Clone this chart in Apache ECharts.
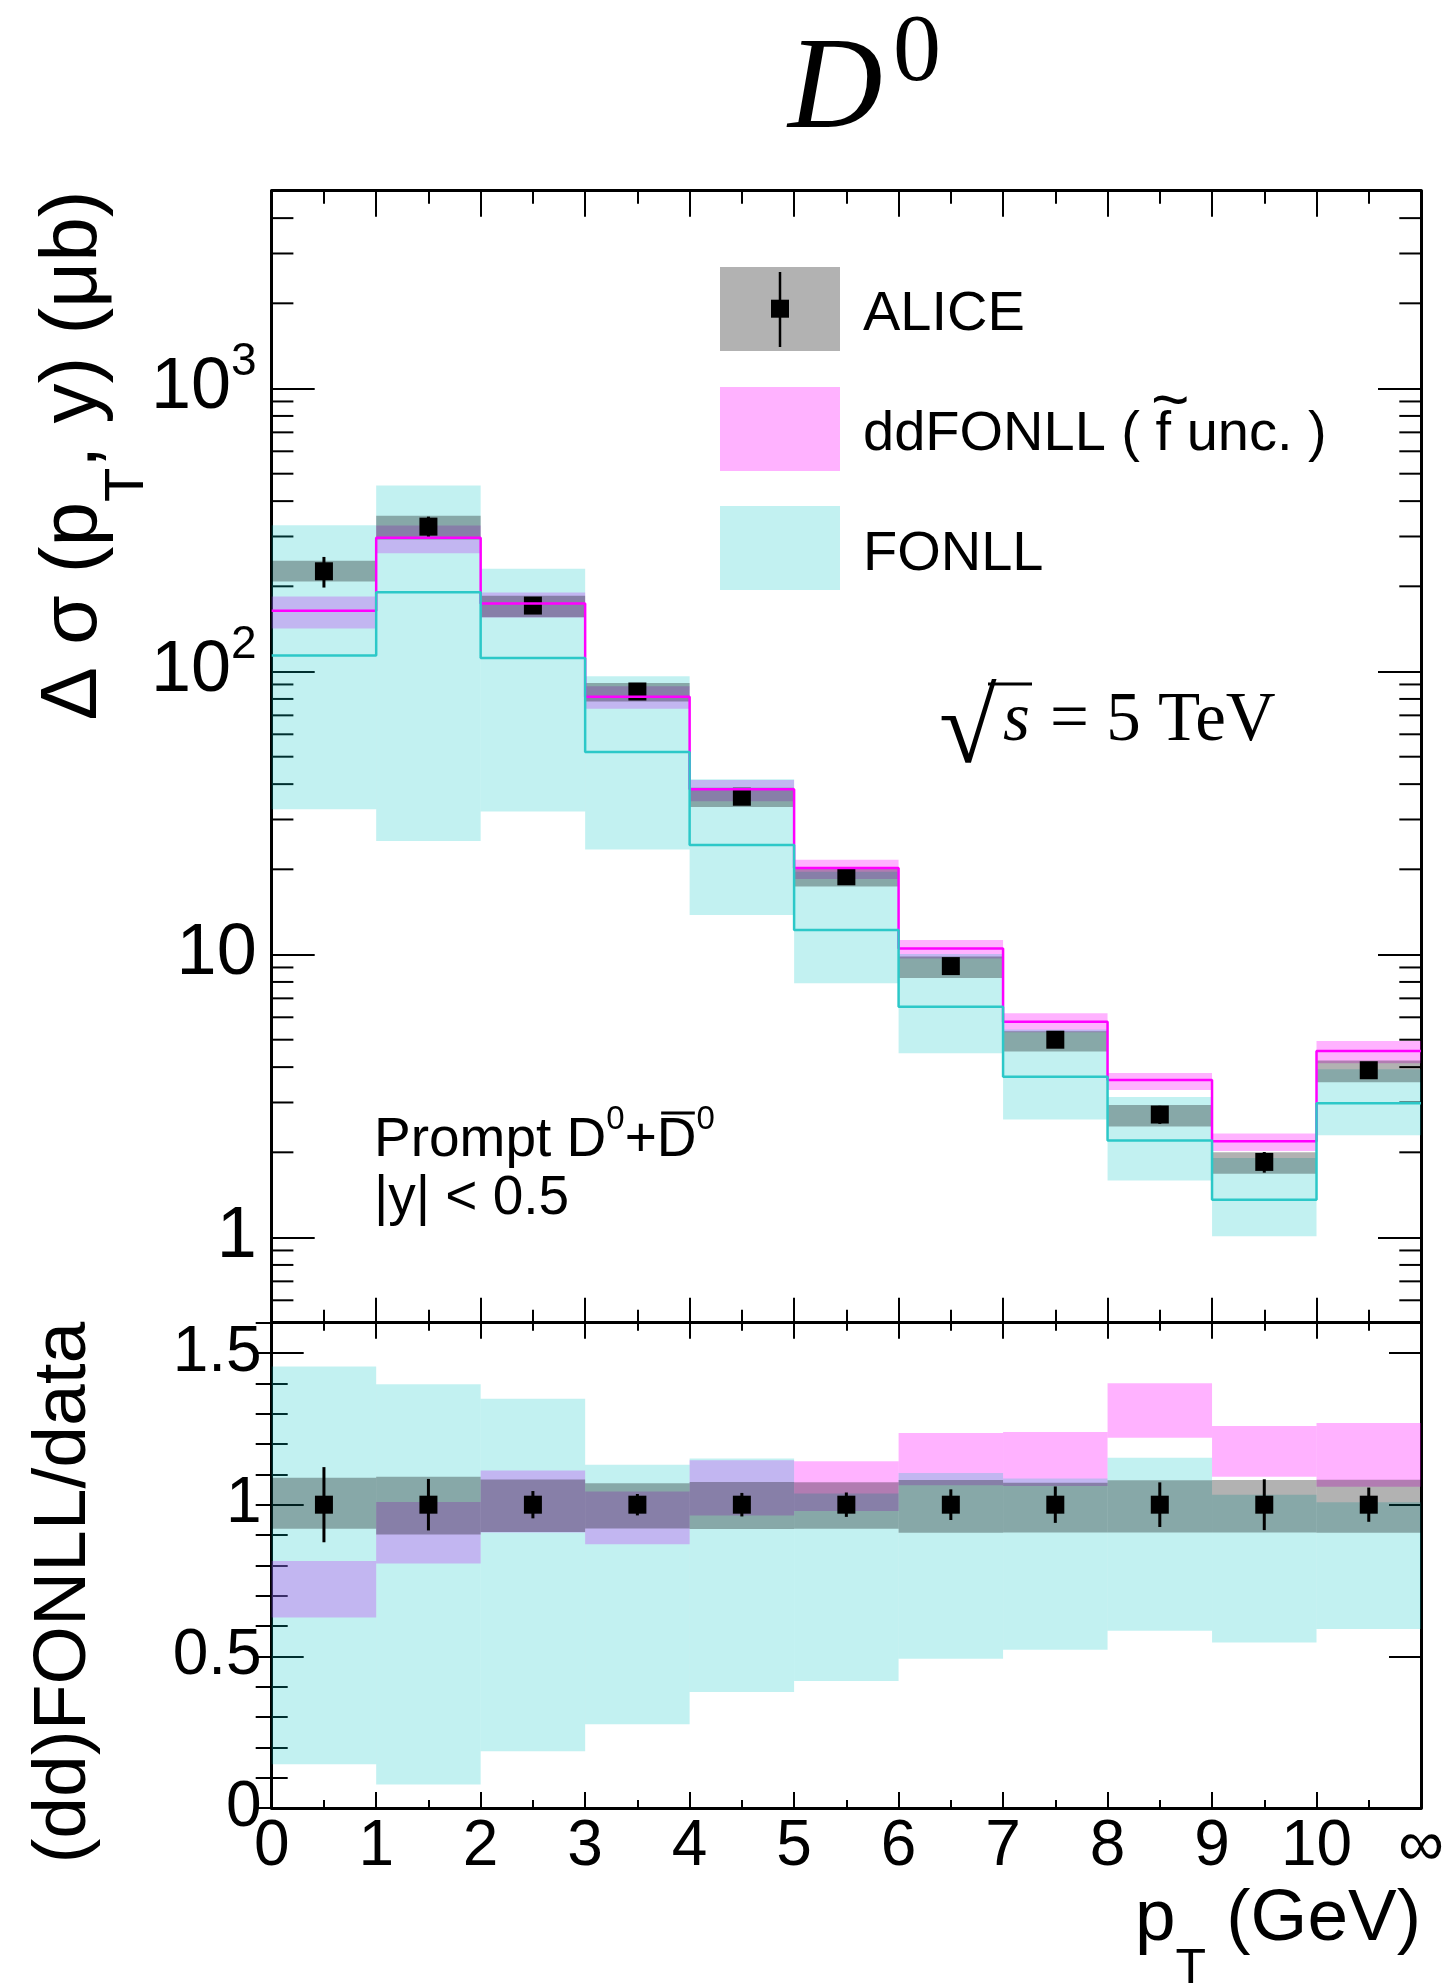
<!DOCTYPE html>
<html>
<head>
<meta charset="utf-8">
<title>D0 cross section</title>
<script src="https://cdn.jsdelivr.net/npm/echarts@6/dist/echarts.min.js"></script>
<style>
  html, body { margin: 0; padding: 0; background: #fff; }
  #chart { width: 1445px; height: 1983px; }
</style>
</head>
<body>
<div id="chart"></div>
<script>
// ---- data -------------------------------------------------------------
// pT bin edges (GeV); the last bin (10 – ∞) is drawn between 10 and 11
const binEdges = [0, 1, 2, 3, 4, 5, 6, 7, 8, 9, 10, 11];
const xTickLabels = ['0', '1', '2', '3', '4', '5', '6', '7', '8', '9', '10', '∞'];

// ALICE prompt D0 + D0bar, |y| < 0.5, Δσ per bin (μb)
const aliceValue    = [226, 325, 171, 85.0, 36.1, 18.9, 9.10, 5.00, 2.72, 1.85, 3.90];
const aliceStat     = [28.0, 27.6, 7.7, 3.0, 1.4, 0.76, 0.46, 0.30, 0.20, 0.155, 0.22];
const aliceSystLow  = [208, 293, 155.6, 78.3, 33.2, 17.4, 8.26, 4.54, 2.47, 1.68, 3.54];
const aliceSystHigh = [246, 355, 185.2, 91.0, 38.8, 20.3, 9.84, 5.36, 2.94, 2.00, 4.22];

// ddFONLL (f~ uncertainty band)
const ddfonllCentral = [164, 297, 174, 81.5, 38.4, 20.2, 10.5, 5.79, 3.60, 2.19, 4.56];
const ddfonllLow     = [142, 262, 155.3, 73.9, 34.8, 18.5, 9.68, 5.31, 3.32, 2.02, 4.13];
const ddfonllHigh    = [184, 328, 190.3, 88.7, 41.4, 21.6, 11.25, 6.20, 3.81, 2.33, 4.95];

// FONLL
const fonllCentral = [114, 190.5, 111.7, 52.0, 24.4, 12.2, 6.54, 3.70, 2.20, 1.36, 2.98];
const fonllLow     = [32.6, 25.2, 32.0, 23.5, 13.8, 7.92, 4.48, 2.61, 1.59, 1.01, 2.30];
const fonllHigh    = [329, 454, 230.7, 96.2, 41.6, 19.6, 10.05, 5.43, 3.14, 1.91, 3.93];

// axis tick labels
const sigmaTickValues = [1, 10, 100, 1000];
const sigmaTickText   = ['1', '10', '{m|10}{s|2}', '{m|10}{s|3}'];
const ratioTickValues = [0, 0.5, 1, 1.5];
const ratioTickText   = ['0', '0.5', '1', '1.5'];

// ---- styling ----------------------------------------------------------
const SANS = '"Liberation Sans", Arial, Helvetica, sans-serif';
const SERIF = '"Liberation Serif", "Times New Roman", Times, serif';
const MID_SANS = 0.3465, MID_SERIF = 0.3375;   // canvas 'middle' to baseline offset (em)

const PINK_FILL = 'rgba(255,0,255,0.30)';
const CYAN_FILL = 'rgba(0,196,196,0.24)';
const GRAY_FILL = 'rgba(0,0,0,0.30)';
const MAGENTA_LINE = '#ff00ff';
const CYAN_LINE = '#2cc8c8';

const F = { left: 271.7, right: 1421, top: 190.7, split: 1322.7, bottom: 1808 };

// ---- helpers ----------------------------------------------------------
const binCenters = binEdges.slice(0, -1).map((e, i) => (e + binEdges[i + 1]) / 2);
const ratio = arr => arr.map((v, i) => v / aliceValue[i]);
const ones = aliceValue.map(() => 1);

function bandSeries(xAxisIndex, yAxisIndex, lows, highs, fill) {
  return {
    type: 'custom', xAxisIndex, yAxisIndex, silent: true, animation: false,
    encode: { x: [0, 1], y: [2, 3] },
    data: lows.map((lo, i) => [binEdges[i], binEdges[i + 1], lo, highs[i]]),
    renderItem: (params, api) => {
      const a = api.coord([api.value(0), api.value(3)]);
      const b = api.coord([api.value(1), api.value(2)]);
      return { type: 'rect', shape: { x: a[0], y: a[1], width: b[0] - a[0], height: b[1] - a[1] },
               style: { fill } };
    }
  };
}

function stepLineSeries(xAxisIndex, yAxisIndex, central, color) {
  return {
    type: 'line', xAxisIndex, yAxisIndex, step: 'end', symbol: 'none', silent: true,
    animation: false,
    lineStyle: { color, width: 2.5 },
    data: binEdges.map((x, i) => [x, central[Math.min(i, central.length - 1)]])
  };
}

function errorBarSeries(xAxisIndex, yAxisIndex, centers, errs) {
  return {
    type: 'custom', xAxisIndex, yAxisIndex, silent: true, animation: false,
    encode: { x: 0, y: [1, 2] },
    data: centers.map((c, i) => [binCenters[i], c - errs[i], c + errs[i]]),
    renderItem: (params, api) => {
      const a = api.coord([api.value(0), api.value(1)]);
      const b = api.coord([api.value(0), api.value(2)]);
      return { type: 'line', shape: { x1: a[0], y1: a[1], x2: b[0], y2: b[1] },
               style: { stroke: '#000', lineWidth: 3 } };
    }
  };
}

function markerSeries(xAxisIndex, yAxisIndex, centers) {
  return {
    type: 'scatter', xAxisIndex, yAxisIndex, symbol: 'rect', symbolSize: 18, silent: true,
    animation: false, itemStyle: { color: '#000', opacity: 1 },
    data: centers.map((c, i) => [binCenters[i], c])
  };
}

// log-axis minor ticks (2..9 in every decade), drawn on both sides of the upper frame
const sigmaMinorTicks = [];
for (let e = -1; e <= 3; e++) {
  for (let m = 2; m <= 9; m++) {
    const v = +(m * Math.pow(10, e)).toPrecision(3);
    if (v > 0.55 && v < 4500) sigmaMinorTicks.push(v);
  }
}
const minorLogTickSeries = {
  type: 'custom', xAxisIndex: 0, yAxisIndex: 0, z: 1, silent: true, animation: false,
  encode: { x: 0, y: 1 },
  data: sigmaMinorTicks.map(v => [0, v]),
  renderItem: (params, api) => {
    const v = api.value(1);
    const l = api.coord([binEdges[0], v]);
    const r = api.coord([binEdges[binEdges.length - 1], v]);
    const st = { stroke: '#000', lineWidth: 2 };
    return { type: 'group', children: [
      { type: 'line', shape: { x1: l[0], y1: l[1], x2: l[0] + 21.7, y2: l[1] }, style: st },
      { type: 'line', shape: { x1: r[0] - 21.7, y1: r[1], x2: r[0], y2: r[1] }, style: st }
    ] };
  }
};

// ---- axes -------------------------------------------------------------
const tickLine = { color: '#000', width: 2 };
const frameLine = { show: true, onZero: false, lineStyle: { color: '#000', width: 3 } };

function xAxisCfg(gridIndex, position, major, minor, labels) {
  return {
    type: 'value', gridIndex, position, min: 0, max: 11, interval: 1,
    axisLine: frameLine,
    axisTick: { show: true, inside: true, length: major, lineStyle: tickLine },
    minorTick: { show: true, splitNumber: 2, length: minor, lineStyle: tickLine },
    splitLine: { show: false }, minorSplitLine: { show: false },
    axisLabel: labels ? {
      show: true, margin: 7, fontSize: 64, fontFamily: SANS, color: '#000',
      showMinLabel: true, showMaxLabel: true,
      formatter: v => xTickLabels[Math.round(v)] ?? ''
    } : { show: false }
  };
}

function sigmaAxisCfg(position, labels) {
  return {
    type: 'log', logBase: 10, gridIndex: 0, position, min: 0.5, max: 5000, splitNumber: 4,
    axisLine: frameLine,
    axisTick: { show: true, inside: true, length: 43, lineStyle: tickLine },
    splitLine: { show: false },
    axisLabel: labels ? {
      show: true, margin: 15, fontSize: 72, fontFamily: SANS, color: '#000',
      showMinLabel: false, showMaxLabel: false,
      formatter: v => {
        const k = sigmaTickValues.findIndex(t => Math.abs(Math.log10(v) - Math.log10(t)) < 1e-3);
        return k < 0 ? '' : sigmaTickText[k];
      },
      rich: {
        m: { fontSize: 72, lineHeight: 99, fontFamily: SANS, color: '#000' },
        s: { fontSize: 46, lineHeight: 46, fontFamily: SANS, color: '#000', verticalAlign: 'top' }
      }
    } : { show: false }
  };
}

function ratioAxisCfg(position, interval, length, labels, line) {
  return {
    type: 'value', gridIndex: 1, position, min: 0, max: 1.6, interval,
    axisLine: line ? frameLine : { show: false },
    axisTick: { show: true, inside: true, length, lineStyle: tickLine },
    splitLine: { show: false },
    axisLabel: labels ? {
      show: true, margin: 10, fontSize: 64, fontFamily: SANS, color: '#000',
      showMinLabel: true, showMaxLabel: false,
      formatter: v => {
        const k = ratioTickValues.findIndex(t => Math.abs(v - t) < 1e-6);
        return k < 0 ? '' : ratioTickText[k];
      }
    } : { show: false }
  };
}

// ---- text helpers ---------------------------------------------------------
const measureCtx = document.createElement('canvas').getContext('2d');
function textWidth(str, size, family, style) {
  measureCtx.font = `${style || 'normal'} ${size}px ${family}`;
  return measureCtx.measureText(str).width;
}
function textEl(str, x, baseline, size, family, extra) {
  const k = family === SERIF ? MID_SERIF : MID_SANS;
  const st = Object.assign({ text: str, fontSize: size, fontFamily: family, fill: '#000',
                             align: 'left', verticalAlign: 'middle' }, extra || {});
  return { type: 'text', x, y: baseline - k * size, silent: true, style: st };
}
// lays out a run of text pieces left to right; returns elements and total width
function textRun(parts, x0, baseline) {
  let x = x0;
  const els = [];
  parts.forEach(p => {
    const fam = p.family || SANS;
    els.push(textEl(p.text, x, baseline + (p.dy || 0), p.size, fam,
                    p.italic ? { fontStyle: 'italic' } : null));
    x += textWidth(p.text, p.size, fam, p.italic ? 'italic' : 'normal');
  });
  return { els, width: x - x0 };
}

// y-axis title of the upper panel (rotated, reading upwards, ending at frame top)
const sigmaTitleParts = [
  { text: 'Δ σ (p', size: 80 },
  { text: 'T', size: 56, dy: 45 },
  { text: ', y) (μb)', size: 80 }
];
const sigmaTitleWidth = textRun(sigmaTitleParts, 0, 0).width;
const sigmaTitle = textRun(sigmaTitleParts, -sigmaTitleWidth, 0).els;

const ratioTitleParts = [{ text: '(dd)FONLL/data', size: 75 }];
const ratioTitleWidth = textRun(ratioTitleParts, 0, 0).width;
const ratioTitle = textRun(ratioTitleParts, -ratioTitleWidth, 0).els;

const ptTitleParts = [
  { text: 'p', size: 73 },
  { text: 'T', size: 50, dy: 43 },
  { text: ' (GeV)', size: 73 }
];
const ptTitleWidth = textRun(ptTitleParts, 0, 0).width;
const ptTitle = textRun(ptTitleParts, 1421 - ptTitleWidth, 1945).els;

// ---- graphic overlay: title, legend, annotations --------------------------------
const graphics = [
  // title D^0
  textEl('D', 788, 136.5, 131, SERIF, { fontStyle: 'italic' }),
  textEl('0', 893, 87.6, 96, SERIF),

  // legend
  { type: 'rect', silent: true, shape: { x: 720, y: 267, width: 120, height: 84 }, style: { fill: GRAY_FILL } },
  { type: 'line', silent: true, shape: { x1: 780, y1: 272, x2: 780, y2: 347 }, style: { stroke: '#000', lineWidth: 2.5 } },
  { type: 'rect', silent: true, shape: { x: 771, y: 299.7, width: 18, height: 18 }, style: { fill: '#000' } },
  textEl('ALICE', 863, 334.3, 56, SANS),
  { type: 'rect', silent: true, shape: { x: 720, y: 387, width: 120, height: 84 }, style: { fill: PINK_FILL } },
  textEl('ddFONLL ( f unc. )', 863, 453.6, 56, SANS),
  textEl('~', 1151, 427, 66, SANS),
  { type: 'rect', silent: true, shape: { x: 720, y: 506, width: 120, height: 84 }, style: { fill: CYAN_FILL } },
  textEl('FONLL', 863, 573.5, 56, SANS),

  // √s = 5 TeV
  textEl('√', 939, 770, 105, SERIF),
  { type: 'line', silent: true, shape: { x1: 988, y1: 684, x2: 1032, y2: 684 }, style: { stroke: '#000', lineWidth: 3 } },
  textEl('s', 1003, 745.5, 69, SERIF, { fontStyle: 'italic' }),
  textEl('= 5 TeV', 1050, 745.5, 69, SERIF),

  // process / rapidity annotation
  ...textRun([
    { text: 'Prompt D', size: 55 },
    { text: '0', size: 33, dy: -29 },
    { text: '+', size: 55 },
    { text: 'D', size: 55 },
    { text: '0', size: 33, dy: -29 }
  ], 374, 1159.9).els,
  textEl('|y| < 0.5', 374, 1218, 55, SANS),

  // axis titles
  { type: 'group', x: 101.7, y: F.top, rotation: Math.PI / 2, silent: true, children: sigmaTitle },
  { type: 'group', x: 90.7, y: F.split - 1, rotation: Math.PI / 2, silent: true, children: ratioTitle },
  ...ptTitle
];

// overbar on the anti-D: placed from the measured run
(function () {
  const before = textWidth('Prompt D', 55, SANS) + textWidth('0', 33, SANS) + textWidth('+', 55, SANS);
  const dW = textWidth('D', 55, SANS);
  const x1 = 374 + before + 0.08 * 55, x2 = 374 + before + dW - 0.03 * 55;
  graphics.push({ type: 'line', silent: true, shape: { x1, y1: 1113, x2, y2: 1113 },
                  style: { stroke: '#000', lineWidth: 3 } });
})();

// ---- chart --------------------------------------------------------------------
const option = {
  animation: false,
  backgroundColor: '#fff',
  grid: [
    { left: F.left, top: F.top, width: F.right - F.left, height: F.split - F.top,
      containLabel: false, outerBoundsMode: 'none' },
    { left: F.left, top: F.split, width: F.right - F.left, height: F.bottom - F.split,
      containLabel: false, outerBoundsMode: 'none' }
  ],
  xAxis: [
    xAxisCfg(0, 'bottom', 25, 13, false),
    xAxisCfg(0, 'top', 26, 13, false),
    xAxisCfg(1, 'bottom', 16, 8, true),
    xAxisCfg(1, 'top', 16, 8, false)
  ],
  yAxis: [
    sigmaAxisCfg('left', true),
    sigmaAxisCfg('right', false),
    ratioAxisCfg('left', 0.5, 32, true, true),
    ratioAxisCfg('right', 0.5, 32, false, true),
    ratioAxisCfg('left', 0.1, 16, false, false),
    ratioAxisCfg('right', 0.1, 16, false, false)
  ],
  series: [
    // upper panel: cross sections
    minorLogTickSeries,
    bandSeries(0, 0, ddfonllLow, ddfonllHigh, PINK_FILL),
    stepLineSeries(0, 0, ddfonllCentral, MAGENTA_LINE),
    bandSeries(0, 0, fonllLow, fonllHigh, CYAN_FILL),
    stepLineSeries(0, 0, fonllCentral, CYAN_LINE),
    bandSeries(0, 0, aliceSystLow, aliceSystHigh, GRAY_FILL),
    errorBarSeries(0, 0, aliceValue, aliceStat),
    markerSeries(0, 0, aliceValue),

    // lower panel: ratios to data
    bandSeries(2, 2, ratio(ddfonllLow), ratio(ddfonllHigh), PINK_FILL),
    bandSeries(2, 2, ratio(fonllLow), ratio(fonllHigh), CYAN_FILL),
    bandSeries(2, 2, ratio(aliceSystLow), ratio(aliceSystHigh), GRAY_FILL),
    errorBarSeries(2, 2, ones, ratio(aliceStat)),
    markerSeries(2, 2, ones)
  ],
  graphic: graphics
};

const chart = echarts.init(document.getElementById('chart'), null, { renderer: 'canvas', width: 1445, height: 1983 });
chart.setOption(option);
</script>
</body>
</html>
